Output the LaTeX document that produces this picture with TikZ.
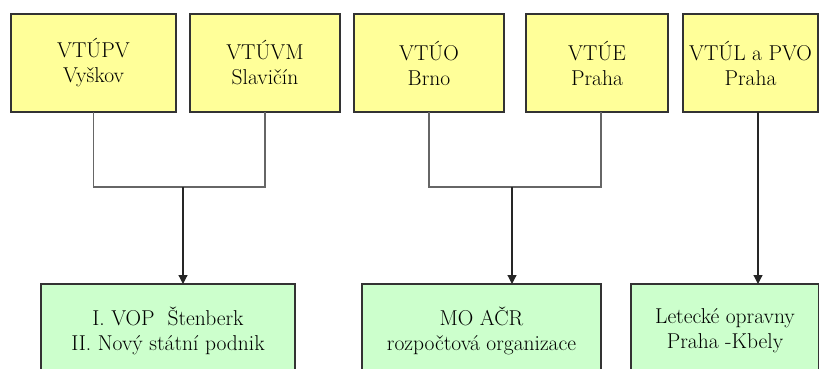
\documentclass[tikz,border=0pt]{standalone}
\usepackage{fontspec}
\usepackage{xcolor}
\usepackage{tikz}
\usetikzlibrary{shapes,arrows.meta}
\usetikzlibrary{positioning}
\definecolor{boxyellow}{HTML}{FFFF99}
\definecolor{boxgreen}{HTML}{CCFFCC}
\tikzstyle{topbox} = [rectangle, draw=black!80, line width=1.2pt, fill=boxyellow, outer sep=0pt,
    align=center, inner sep=0pt, minimum height=98pt, font=\rmfamily\fontsize{21.5}{25}\selectfont]
\tikzstyle{botbox} = [rectangle, draw=black!80, line width=1.2pt, fill=boxgreen, outer sep=0pt,
    align=center, inner sep=0pt, minimum height=94pt, font=\rmfamily\fontsize{21.5}{25}\selectfont]
\tikzstyle{link} = [draw, black!60, line width=1.2pt]
\tikzstyle{arrowline} = [draw, black!85, line width=1.2pt, -{Triangle[length=9pt,width=9pt]}]

\begin{document}
\begin{tikzpicture}[node distance = 14pt]
    \useasboundingbox (0,0) rectangle (819pt,-368pt);
    % Place nodes
    \node [topbox, minimum width=165pt, anchor=north west] (vtupv) at (11pt,-14pt) {VTÚPV\\ Vyškov};
    \node [topbox, minimum width=150pt, right=14pt of vtupv] (vtuvm) {VTÚVM\\ Slavičín};
    \node [topbox, minimum width=150pt, right=14pt of vtuvm] (vtuo) {VTÚO\\ Brno};
    \node [topbox, minimum width=142pt, right=22pt of vtuo] (vtue) {VTÚE\\ Praha};
    \node [topbox, minimum width=135pt, right=15pt of vtue] (vtul) {VTÚL a PVO\\ Praha};

    \node [botbox, minimum width=254pt, anchor=north west] (vop) at (41pt,-284pt) {I. VOP\ \ Štenberk\\ II. Nový státní podnik};
    \node [botbox, minimum width=239pt, right=67pt of vop] (moacr) {MO AČR\\ rozpočtová organizace};
    \node [botbox, minimum width=188pt, right=30pt of moacr] (opravny) {Letecké opravny\\ Praha -Kbely};

    \coordinate (j1) at (183pt,-187pt);
    \coordinate (j2) at (512pt,-187pt);
    \coordinate (c4) at ([xshift=4pt]vtue.south);
    \coordinate (c5) at ([xshift=7.5pt]vtul.south);
    % Draw edges
    \path [link] (vtupv.south) |- (j1) -| (vtuvm.south);
    \path [link] (vtuo.south) |- (j2) -| (c4);
    \path [arrowline] (j1) -- (j1 |- vop.north);
    \path [arrowline] (j2) -- (j2 |- moacr.north);
    \path [arrowline] (c5) -- (c5 |- opravny.north);
\end{tikzpicture}
\end{document}
